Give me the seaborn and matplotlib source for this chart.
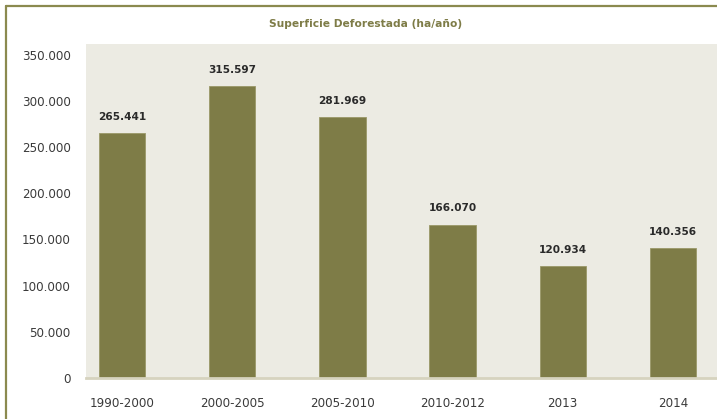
import matplotlib
matplotlib.use("Agg")
import matplotlib.pyplot as plt
import seaborn as sns
import pandas as pd
from matplotlib.lines import Line2D
from matplotlib.ticker import FuncFormatter

periodos = ["1990-2000", "2000-2005", "2005-2010", "2010-2012", "2013", "2014"]
hectareas = [265441, 315597, 281969, 166070, 120934, 140356]
yticks = [0, 50000, 100000, 150000, 200000, 250000, 300000, 350000]

df = pd.DataFrame({"Periodo": periodos, "Hectareas": hectareas})

OLIVE = "#7e7c47"
BG = "#ecebe3"
TEXT = "#3a3a3a"

sns.set_style("white")
plt.rcParams["font.family"] = ["DejaVu Sans"]

fig = plt.figure(figsize=(7.17, 4.19), dpi=100)
ax = fig.add_axes([86 / 717, 1 - 378 / 419, 1 - 86 / 717, (378 - 44) / 419])
ax.set_facecolor(BG)

sns.barplot(data=df, x="Periodo", y="Hectareas", color=OLIVE, width=0.42,
            saturation=1, edgecolor="#9a9868", linewidth=0.6, ax=ax)

ax.set_ylim(0, 361500)
ax.set_xlim(-0.327, 5.4)
ax.set_yticks(yticks)
ax.yaxis.set_major_formatter(FuncFormatter(lambda v, p: f"{int(v):,}".replace(",", ".")))
ax.tick_params(axis="y", length=0, pad=11, labelsize=8.6, colors=TEXT)
ax.tick_params(axis="x", length=0, pad=14, labelsize=8.6, colors=TEXT)
ax.set_xlabel("")
ax.set_ylabel("")

for s in ["top", "right", "left"]:
    ax.spines[s].set_visible(False)
ax.spines["bottom"].set_color("#d6d3bf")
ax.spines["bottom"].set_linewidth(2)

for i, v in enumerate(hectareas):
    ax.annotate(f"{v:,}".replace(",", "."), (i, v), xytext=(0, 8),
                textcoords="offset points", ha="center", va="bottom",
                fontsize=7.6, fontweight="bold", color="#2a2a2a")

fig.text(366 / 717, 1 - 24 / 419, "Superficie Deforestada (ha/año)",
         ha="center", va="center", fontsize=7.7, fontweight="bold", color="#7e7c47")

# frame on the left and top
fig.add_artist(Line2D([5.5 / 717, 5.5 / 717], [0, 1 - 6.5 / 419], color="#8b8a4f", lw=1.6))
fig.add_artist(Line2D([5.5 / 717, 1], [1 - 6.5 / 419, 1 - 6.5 / 419], color="#8b8a4f", lw=1.6))

fig.savefig("out.png", dpi=100)
